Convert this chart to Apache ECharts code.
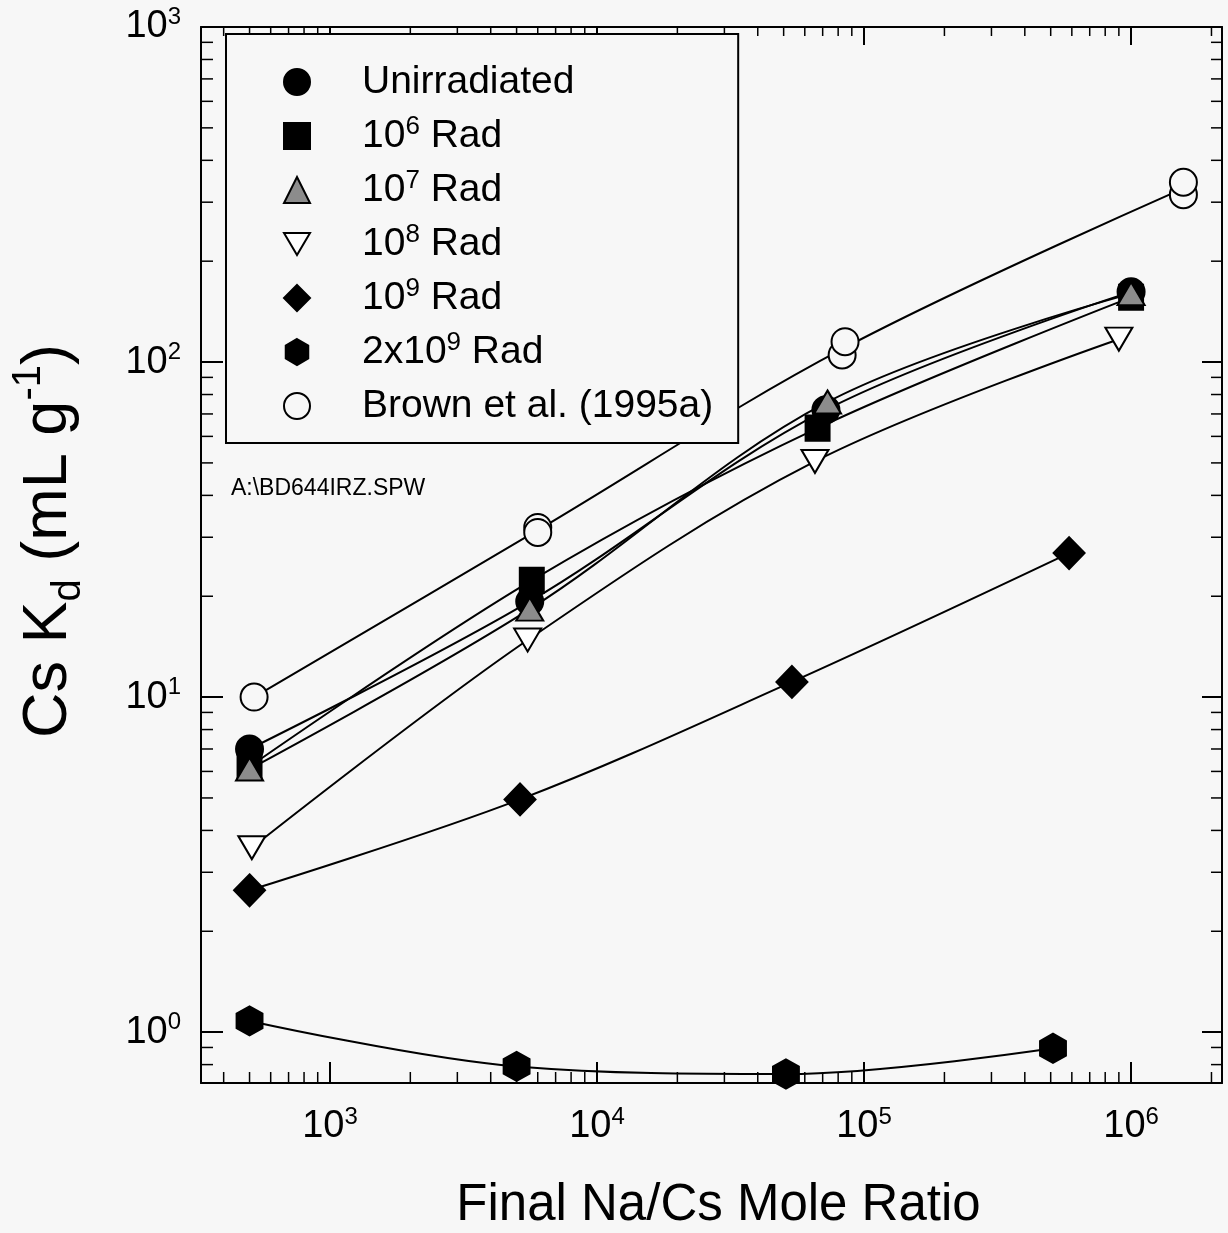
<!DOCTYPE html>
<html>
<head>
<meta charset="utf-8">
<title>Cs Kd vs Na/Cs</title>
<script src="https://cdn.jsdelivr.net/npm/echarts@6/dist/echarts.min.js"></script>
<style>
html, body { margin: 0; padding: 0; background: #f7f7f7; }
#main { width: 1228px; height: 1233px; }
</style>
</head>
<body>
<div id="main"></div>
<script>
// axis ranges and ticks
var xMin = 329, xMax = 2.19e6;
var yMin = 0.705, yMax = 1000;
var xTicks = [1e3, 1e4, 1e5, 1e6];
var yTicks = [1, 10, 100, 1000];
var xMinorTicks = [400, 500, 600, 700, 800, 900,
  2e3, 3e3, 4e3, 5e3, 6e3, 7e3, 8e3, 9e3,
  2e4, 3e4, 4e4, 5e4, 6e4, 7e4, 8e4, 9e4,
  2e5, 3e5, 4e5, 5e5, 6e5, 7e5, 8e5, 9e5,
  2e6];
var yMinorTicks = [0.8, 0.9, 2, 3, 4, 5, 6, 7, 8, 9,
  20, 30, 40, 50, 60, 70, 80, 90,
  200, 300, 400, 500, 600, 700, 800, 900];

// measured points [Na/Cs ratio, Kd]
var unirradiated = [[500, 7.0], [5600, 19.3], [72000, 72], [1.0e6, 162]];
var rad1e6 = [[500, 6.2], [5700, 22.3], [67000, 63.5], [1.0e6, 156]];
var rad1e7 = [[500, 6.1], [5600, 18.3], [73000, 76], [1.0e6, 160]];
var rad1e8 = [[510, 3.55], [5500, 14.8], [65500, 50.5], [9.0e5, 117]];
var rad1e9 = [[500, 2.65], [5150, 4.95], [53700, 11.1], [5.86e5, 26.9]];
var rad2e9 = [[500, 1.08], [5000, 0.79], [51000, 0.75], [5.1e5, 0.895]];
var brown = [[520, 10], [6000, 32.1], [6000, 31], [82800, 105], [84900, 115], [1.57e6, 316], [1.57e6, 344]];
// the fitted curve for Brown et al. runs between the duplicate points
var brownCurve = [[520, 10], [6000, 31.5], [84000, 110], [1.57e6, 330]];

var FONT = 'Liberation Sans';
var hexagon = 'path://M0,-1 L0.866,-0.5 L0.866,0.5 L0,1 L-0.866,0.5 L-0.866,-0.5 Z';
var downTriangle = 'path://M-1,-0.85 L1,-0.85 L0,0.85 Z';

var groups = [
  { name: 'Unirradiated', data: unirradiated, symbol: 'circle', size: 27, fill: '#000' },
  { name: '10^6 Rad', data: rad1e6, symbol: 'rect', size: [24, 25], fill: '#000' },
  { name: '10^7 Rad', data: rad1e7, symbol: 'triangle', size: [27, 23], fill: '#8c8c8c' },
  { name: '10^8 Rad', data: rad1e8, symbol: downTriangle, size: [27, 23], fill: '#ffffff' },
  { name: '10^9 Rad', data: rad1e9, symbol: 'diamond', size: [31, 32], fill: '#000' },
  { name: '2x10^9 Rad', data: rad2e9, symbol: hexagon, size: [26, 29], fill: '#000' },
  { name: 'Brown et al. (1995a)', data: brown, curve: brownCurve, symbol: 'circle', size: 27, fill: '#f7f7f7' }
];

function isTick(v, ticks) {
  for (var i = 0; i < ticks.length; i++) {
    if (Math.abs(Math.log10(v) - Math.log10(ticks[i])) < 1e-6) return true;
  }
  return false;
}
function powLabel(ticks) {
  return function (v) {
    if (!isTick(v, ticks)) return '';
    return '{b|10}{s|' + Math.round(Math.log10(v)) + '}';
  };
}
var labelRich = {
  b: { fontSize: 38, fontFamily: FONT, color: '#000', lineHeight: 44 },
  s: { fontSize: 24, fontFamily: FONT, color: '#000', verticalAlign: 'top' }
};

var lineStyle = { color: '#000', width: 2 };

function xMinorItem(params, api) {
  var v = api.value(0);
  var b = api.coord([v, yMin]);
  var t = api.coord([v, yMax]);
  return {
    type: 'group',
    children: [
      { type: 'line', shape: { x1: b[0], y1: b[1], x2: b[0], y2: b[1] - 11 }, style: { stroke: '#000', lineWidth: 1.5 } },
      { type: 'line', shape: { x1: t[0], y1: t[1], x2: t[0], y2: t[1] + 9 }, style: { stroke: '#000', lineWidth: 1.5 } }
    ]
  };
}
function yMinorItem(params, api) {
  var v = api.value(1);
  var l = api.coord([xMin, v]);
  var r = api.coord([xMax, v]);
  return {
    type: 'group',
    children: [
      { type: 'line', shape: { x1: l[0], y1: l[1], x2: l[0] + 12, y2: l[1] }, style: { stroke: '#000', lineWidth: 1.5 } },
      { type: 'line', shape: { x1: r[0], y1: r[1], x2: r[0] - 11, y2: r[1] }, style: { stroke: '#000', lineWidth: 1.5 } }
    ]
  };
}

var series = [];
groups.forEach(function (g) {
  series.push({
    type: 'line',
    data: g.curve || g.data,
    smooth: 0.35,
    symbol: 'none',
    lineStyle: lineStyle,
    z: 2,
    silent: true
  });
});
groups.forEach(function (g, i) {
  series.push({
    name: g.name,
    type: 'scatter',
    data: g.data,
    symbol: g.symbol,
    symbolSize: g.size,
    itemStyle: { color: g.fill, borderColor: '#000', borderWidth: 2, opacity: 1 },
    z: 3 + i
  });
});
series.push({
  type: 'custom',
  renderItem: xMinorItem,
  data: xMinorTicks.map(function (v) { return [v, yMin]; }),
  silent: true,
  z: 1
});
series.push({
  type: 'custom',
  renderItem: yMinorItem,
  data: yMinorTicks.map(function (v) { return [xMin, v]; }),
  silent: true,
  z: 1
});

var chart = echarts.init(document.getElementById('main'));
chart.setOption({
  animation: false,
  backgroundColor: '#f7f7f7',
  grid: { left: 201, right: 6, top: 27, bottom: 150, outerBoundsMode: 'none' },
  legend: {
    data: groups.map(function (g) { return { name: g.name, icon: g.symbol }; }),
    orient: 'vertical',
    left: 226,
    top: 34,
    padding: [26, 25, 15, 57],
    itemGap: 10,
    itemWidth: 26,
    itemHeight: 26,
    borderColor: '#000',
    borderWidth: 2,
    backgroundColor: '#f7f7f7',
    selectedMode: false,
    formatter: function (name) {
      return name.replace(/\^(\d+)/, '{sup|$1}');
    },
    textStyle: {
      fontFamily: FONT,
      fontSize: 39,
      color: '#000',
      lineHeight: 44,
      padding: [0, 0, 0, 47],
      rich: {
        sup: { fontSize: 26, fontFamily: FONT, color: '#000', verticalAlign: 'top' }
      }
    }
  },
  graphic: [{
    type: 'text',
    left: 231,
    top: 477,
    style: { text: 'A:\\BD644IRZ.SPW', fontFamily: FONT, fontSize: 23, fill: '#000' }
  }],
  xAxis: [{
    type: 'log',
    logBase: 10,
    min: xMin,
    max: xMax,
    position: 'bottom',
    axisLine: { onZero: false, lineStyle: lineStyle },
    axisTick: { inside: true, length: 21, lineStyle: lineStyle },
    axisLabel: { formatter: powLabel(xTicks), margin: 22, rich: labelRich, showMinLabel: false, showMaxLabel: false },
    splitLine: { show: false },
    name: 'Final Na/Cs Mole Ratio',
    nameLocation: 'middle',
    nameGap: 97,
    nameTextStyle: { fontFamily: FONT, fontSize: 51, color: '#000', padding: [0, 0, 0, 14] }
  }, {
    type: 'log',
    logBase: 10,
    min: xMin,
    max: xMax,
    position: 'top',
    axisLine: { onZero: false, lineStyle: lineStyle },
    axisTick: { inside: true, length: 18, lineStyle: lineStyle },
    axisLabel: { show: false },
    splitLine: { show: false }
  }],
  yAxis: [{
    type: 'log',
    logBase: 10,
    min: yMin,
    max: yMax,
    position: 'left',
    axisLine: { onZero: false, lineStyle: lineStyle },
    axisTick: { inside: true, length: 22, lineStyle: lineStyle },
    axisLabel: { formatter: powLabel(yTicks), margin: 20, rich: labelRich, showMinLabel: false },
    splitLine: { show: false },
    name: 'Cs K{sub|d} (mL g{sup|-1})',
    nameLocation: 'middle',
    nameGap: 112,
    nameTextStyle: {
      fontFamily: FONT, fontSize: 63, color: '#000',
      padding: [0, 0, 0, 28],
      rich: {
        sub: { fontSize: 40, fontFamily: FONT, color: '#000', verticalAlign: 'bottom', lineHeight: 80 },
        sup: { fontSize: 40, fontFamily: FONT, color: '#000', verticalAlign: 'top' }
      }
    }
  }, {
    type: 'log',
    logBase: 10,
    min: yMin,
    max: yMax,
    position: 'right',
    axisLine: { onZero: false, lineStyle: lineStyle },
    axisTick: { inside: true, length: 20, lineStyle: lineStyle },
    axisLabel: { show: false },
    splitLine: { show: false }
  }],
  series: series
});
</script>
</body>
</html>
